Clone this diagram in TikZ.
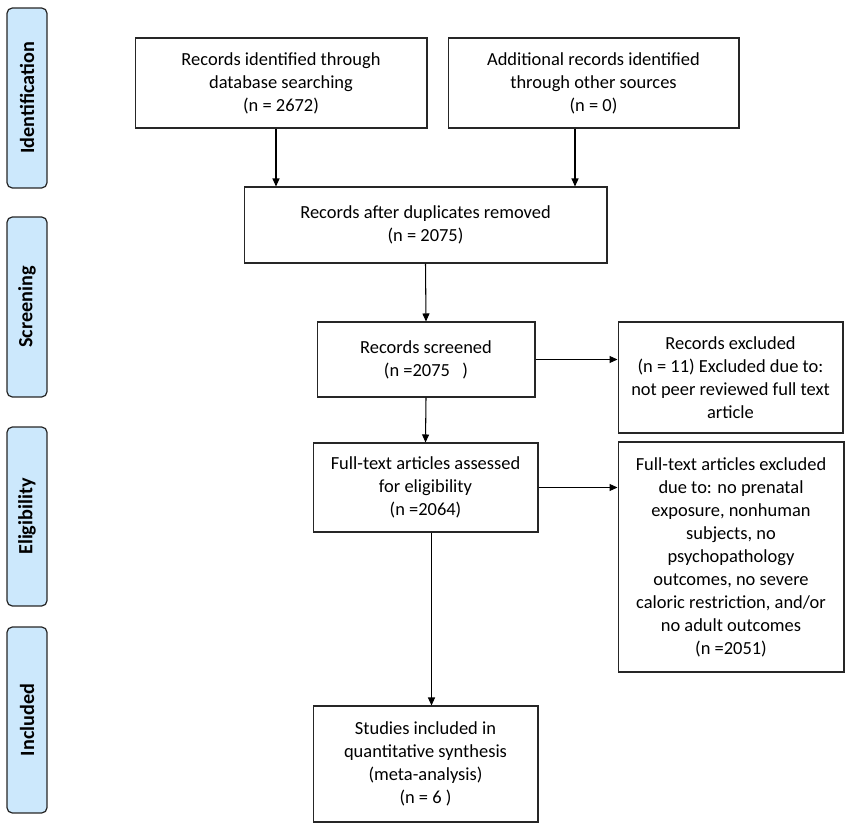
\documentclass[tikz,border=0pt]{standalone}
\usepackage{fontspec}
\setmainfont{Carlito}
\usetikzlibrary{arrows.meta}
\definecolor{stageblue}{RGB}{204,232,252}
\tikzset{
  box/.style={draw=black!85, line width=0.6pt, align=center, inner sep=2pt,
    font=\fontsize{10.5}{13.1}\selectfont},
  stage/.style={draw=black!85, fill=stageblue, rounded corners=3pt, line width=0.7pt,
    rotate=90, minimum height=0.8cm, font=\bfseries\fontsize{11.5}{13}\selectfont},
  arr/.style={-{Triangle[length=1.6mm,width=1.4mm]}, line width=0.6pt}
}
\begin{document}
\begin{tikzpicture}[x=0.02cm, y=-0.02cm]
  \useasboundingbox (0,0) rectangle (851,830);
  % stage labels
  \node[stage, minimum width=3.6cm]  (sid)  at (27,98)    {Identification};
  \node[stage, minimum width=3.6cm]  (ssc)  at (27,307)   {Screening};
  \node[stage, minimum width=3.58cm] (sel)  at (27,516.5) {Eligibility};
  \node[stage, minimum width=3.72cm] (sinc) at (27,720)   {Included};
  % boxes
  \node[box, minimum width=5.84cm, minimum height=1.8cm] (rec) at (281,83)
    {Records identified through\\database searching\\(n = 2672)};
  \node[box, minimum width=5.82cm, minimum height=1.8cm] (add) at (593.5,83)
    {Additional records identified\\through other sources\\(n = 0)};
  \node[box, minimum width=7.26cm, minimum height=1.52cm] (dup) at (425.5,225)
    {Records after duplicates removed\\(n = 2075)};
  \node[box, minimum width=4.36cm, minimum height=1.5cm] (scr) at (426,359.5)
    {Records screened\\(n =2075\ \ \ )};
  \node[box, minimum width=4.5cm, minimum height=2.22cm] (exc) at (730.5,377.5)
    {Records excluded\\(n = 11) Excluded due to:\\not peer reviewed full text\\article};
  \node[box, minimum width=4.5cm, minimum height=1.78cm] (full) at (425.5,487.5)
    {Full-text articles assessed\\for eligibility\\(n =2064)};
  \node[box, minimum width=4.52cm, minimum height=4.6cm] (fexc) at (731,557)
    {Full-text articles excluded\\due to: no prenatal\\exposure, nonhuman\\subjects, no\\psychopathology\\outcomes, no severe\\caloric restriction, and/or\\no adult outcomes\\(n =2051)};
  \node[box, minimum width=4.5cm, minimum height=2.32cm] (incl) at (425.5,764)
    {Studies included in\\quantitative synthesis\\(meta-analysis)\\(n = 6 )};
  % arrows
  \draw[arr] ([xshift=-1mm]rec.south) -- ([xshift=-1mm]rec.south |- dup.north);
  \draw[arr] ([xshift=-3.7mm]add.south) -- ([xshift=-3.7mm]add.south |- dup.north);
  \draw[arr] (dup.south) -- (scr.north);
  \draw[arr] (scr.east) -- (scr.east -| exc.west);
  \draw[arr] (scr.south) -- (full.north);
  \draw[arr] (full.east) -- (full.east -| fexc.west);
  \draw[arr] ([xshift=1.2mm]full.south) -- ([xshift=1.2mm]incl.north);
\end{tikzpicture}
\end{document}
